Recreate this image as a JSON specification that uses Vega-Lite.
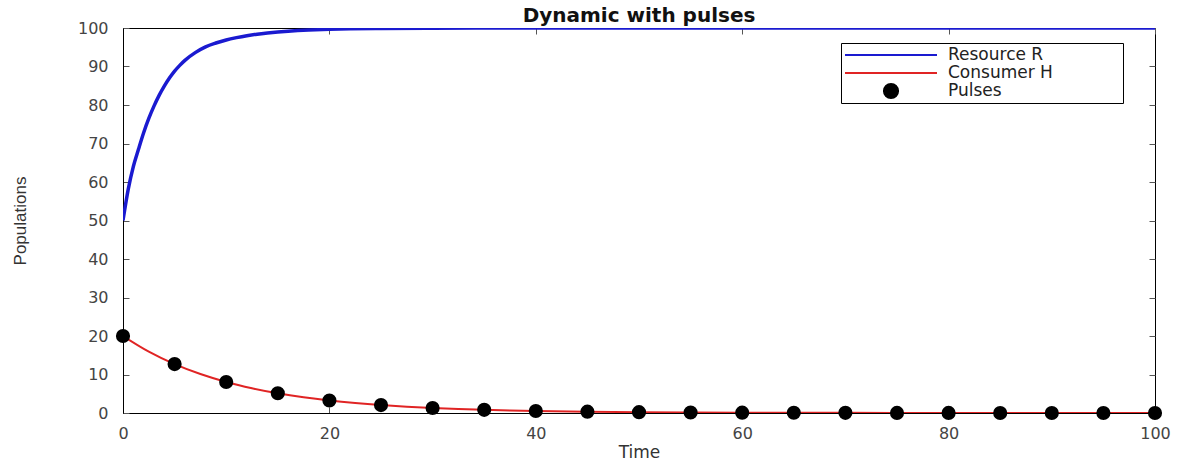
{
  "$schema": "https://vega.github.io/schema/vega-lite/v6.json",
  "width": 1032,
  "height": 385,
  "autosize": {"type": "none"},
  "padding": {"left": 123, "top": 28, "right": 32, "bottom": 53},
  "background": "white",
  "config": {"view": {"stroke": "black", "strokeWidth": 1}, "font": "DejaVu Sans"},
  "title": {"text": "Dynamic with pulses", "fontSize": 20, "fontWeight": "bold", "font": "DejaVu Sans", "color": "#111", "offset": 5, "dy": 11, "anchor": "middle"},
  "datasets": {
    "R": [
      {"t": 0, "value": 50}, {"t": 0.5, "value": 58}, {"t": 1, "value": 64}, {"t": 1.5, "value": 68.5},
      {"t": 2, "value": 72.8}, {"t": 2.5, "value": 76.5}, {"t": 3, "value": 79.7}, {"t": 3.5, "value": 82.5},
      {"t": 4, "value": 84.9}, {"t": 4.5, "value": 87}, {"t": 5, "value": 88.8}, {"t": 5.5, "value": 90.3},
      {"t": 6, "value": 91.6}, {"t": 7, "value": 93.6}, {"t": 8, "value": 95.1}, {"t": 9, "value": 96.1},
      {"t": 10, "value": 96.9}, {"t": 11, "value": 97.5}, {"t": 12, "value": 98}, {"t": 13, "value": 98.4},
      {"t": 14, "value": 98.7}, {"t": 15, "value": 98.95}, {"t": 16, "value": 99.15}, {"t": 18, "value": 99.45},
      {"t": 20, "value": 99.65}, {"t": 22, "value": 99.78}, {"t": 25, "value": 99.88}, {"t": 30, "value": 99.96},
      {"t": 35, "value": 99.99}, {"t": 40, "value": 100}, {"t": 60, "value": 100}, {"t": 80, "value": 100}, {"t": 100, "value": 100}
    ],
    "H": [
      {"t": 0, "value": 20}, {"t": 2.5, "value": 15.94}, {"t": 5, "value": 12.7}, {"t": 7.5, "value": 10.12},
      {"t": 10, "value": 8.06}, {"t": 12.5, "value": 6.43}, {"t": 15, "value": 5.12}, {"t": 17.5, "value": 4.08},
      {"t": 20, "value": 3.25}, {"t": 22.5, "value": 2.59}, {"t": 25, "value": 2.06}, {"t": 27.5, "value": 1.64},
      {"t": 30, "value": 1.31}, {"t": 32.5, "value": 1.04}, {"t": 35, "value": 0.83}, {"t": 37.5, "value": 0.66},
      {"t": 40, "value": 0.53}, {"t": 45, "value": 0.34}, {"t": 50, "value": 0.21}, {"t": 55, "value": 0.14},
      {"t": 60, "value": 0.086}, {"t": 65, "value": 0.055}, {"t": 70, "value": 0.035}, {"t": 75, "value": 0.022},
      {"t": 80, "value": 0.014}, {"t": 85, "value": 0.009}, {"t": 90, "value": 0.006}, {"t": 95, "value": 0.004},
      {"t": 100, "value": 0.002}
    ],
    "P": [
      {"t": 0, "value": 20, "series": "Pulses"}, {"t": 5, "value": 12.7, "series": "Pulses"},
      {"t": 10, "value": 8.06, "series": "Pulses"}, {"t": 15, "value": 5.12, "series": "Pulses"},
      {"t": 20, "value": 3.25, "series": "Pulses"}, {"t": 25, "value": 2.06, "series": "Pulses"},
      {"t": 30, "value": 1.31, "series": "Pulses"}, {"t": 35, "value": 0.83, "series": "Pulses"},
      {"t": 40, "value": 0.53, "series": "Pulses"}, {"t": 45, "value": 0.34, "series": "Pulses"},
      {"t": 50, "value": 0.21, "series": "Pulses"}, {"t": 55, "value": 0.14, "series": "Pulses"},
      {"t": 60, "value": 0.086, "series": "Pulses"}, {"t": 65, "value": 0.055, "series": "Pulses"},
      {"t": 70, "value": 0.035, "series": "Pulses"}, {"t": 75, "value": 0.022, "series": "Pulses"},
      {"t": 80, "value": 0.014, "series": "Pulses"}, {"t": 85, "value": 0.009, "series": "Pulses"},
      {"t": 90, "value": 0.006, "series": "Pulses"}, {"t": 95, "value": 0.004, "series": "Pulses"},
      {"t": 100, "value": 0.002, "series": "Pulses"}
    ]
  },
  "layer": [
    {
      "data": {"name": "H"},
      "mark": {"type": "line", "interpolate": "monotone", "strokeWidth": 2, "color": "#e02424", "clip": true},
      "encoding": {
        "x": {"field": "t", "type": "quantitative", "scale": {"domain": [0, 100], "nice": false},
          "axis": {"orient": "bottom", "values": [0, 20, 40, 60, 80, 100], "tickSize": -6, "tickColor": "#555", "domainColor": "black", "grid": false,
            "labelFontSize": 16, "labelColor": "#444", "labelPadding": 18, "labelFont": "DejaVu Sans", "labelFlush": false,
            "title": "Time", "titleFontSize": 17, "titleFontWeight": "normal", "titleColor": "#333", "titleFont": "DejaVu Sans", "titleY": 39, "titleBaseline": "middle"}},
        "y": {"field": "value", "type": "quantitative", "scale": {"domain": [0, 100], "nice": false},
          "axis": {"orient": "left", "values": [0, 10, 20, 30, 40, 50, 60, 70, 80, 90, 100], "tickSize": -6, "tickColor": "#555", "domainColor": "black", "grid": false,
            "labelFontSize": 16, "labelColor": "#444", "labelPadding": 21, "labelFont": "DejaVu Sans", "labelFlush": false,
            "title": "Populations", "titleFontSize": 17, "titleFontWeight": "normal", "titleColor": "#333", "titleFont": "Liberation Sans", "titleX": -103, "titleY": 192.5, "titleAlign": "center", "titleBaseline": "middle", "titleAngle": 270}}
      }
    },
    {
      "data": {"name": "R"},
      "mark": {"type": "line", "interpolate": "monotone", "strokeWidth": 3.5, "color": "#1a1ad0", "clip": true},
      "encoding": {
        "x": {"field": "t", "type": "quantitative", "axis": null},
        "y": {"field": "value", "type": "quantitative", "axis": null}
      }
    },
    {
      "data": {"name": "P"},
      "mark": {"type": "point", "filled": true, "opacity": 1, "size": 200},
      "encoding": {
        "x": {"field": "t", "type": "quantitative", "axis": null},
        "y": {"field": "value", "type": "quantitative", "axis": null},
        "color": {"field": "series", "type": "nominal",
          "scale": {"domain": ["Resource R", "Consumer H", "Pulses"], "range": ["#1a1ad0", "#e02424", "#000000"]},
          "legend": {"orient": "none", "legendX": 718, "legendY": 15, "title": null, "strokeColor": "black", "fillColor": "white", "padding": 3,
            "labelFontSize": 17, "labelFont": "DejaVu Sans", "labelColor": "#222", "labelOffset": 10, "rowPadding": 0, "labelLimit": 400,
            "symbolSize": 8464, "clipHeight": 18, "symbolStrokeWidth": 2,
            "labelExpr": "datum.label + '\u00a0\u00a0\u00a0\u00a0\u00a0\u00a0\u00a0\u00a0\u00a0\u00a0\u2800'",
            "encoding": {"symbols": {
              "stroke": {"value": {"expr": "scale('color', datum.value)"}},
              "strokeWidth": {"value": 2},
              "size": {"value": {"expr": "datum.value === 'Pulses' ? 200 : 8464"}}}}}},
        "shape": {"field": "series", "type": "nominal",
          "scale": {"domain": ["Resource R", "Consumer H", "Pulses"], "range": ["stroke", "stroke", "circle"]}}
      }
    },
    {
      "data": {"name": "P"},
      "mark": {"type": "point", "opacity": 0},
      "encoding": {
        "x": {"field": "t", "type": "quantitative",
          "axis": {"orient": "top", "values": [0, 20, 40, 60, 80, 100], "tickSize": -6, "tickColor": "#555", "domain": false, "labels": false, "title": null, "grid": false}},
        "y": {"field": "value", "type": "quantitative",
          "axis": {"orient": "right", "values": [0, 10, 20, 30, 40, 50, 60, 70, 80, 90, 100], "tickSize": -6, "tickColor": "#555", "domain": false, "labels": false, "title": null, "grid": false}}
      }
    }
  ],
  "resolve": {"axis": {"x": "independent", "y": "independent"}}
}
